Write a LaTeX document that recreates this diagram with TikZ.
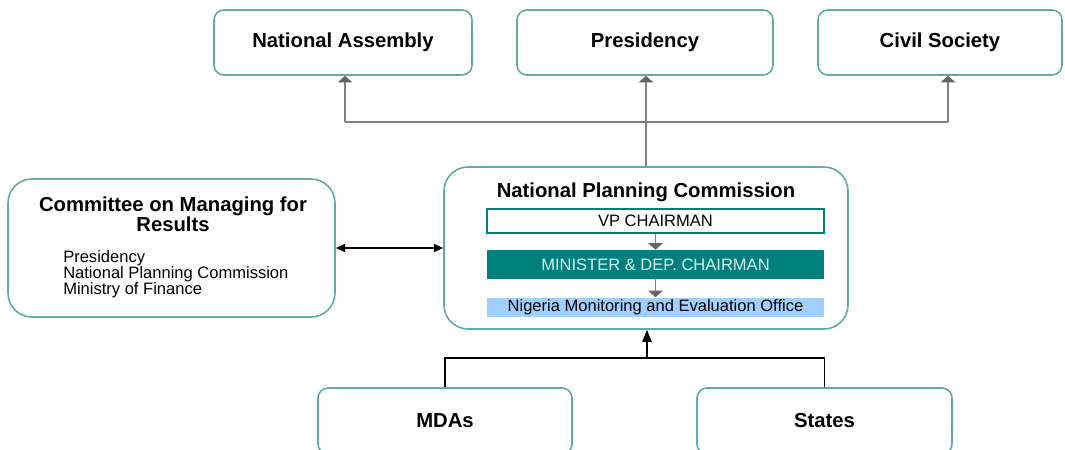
\documentclass[tikz,border=0pt]{standalone}
\usepackage{fontspec}
\setmainfont{Liberation Sans}
\usepackage{tikz}
\usetikzlibrary{positioning,arrows.meta}
\definecolor{boxline}{RGB}{95,170,170}
\definecolor{linegray}{RGB}{128,128,128}
\definecolor{arrowgray}{RGB}{100,100,100}
\definecolor{npcteal}{RGB}{0,128,124}
\definecolor{npcpale}{RGB}{215,240,240}
\definecolor{npcblue}{RGB}{160,208,255}

\begin{document}
\begin{tikzpicture}[x=0.75pt,y=-0.75pt,
	outerbox/.style={draw=boxline, line width=1.2pt, rounded corners=7.5pt, fill=white, inner sep=0pt},
	bigbox/.style={outerbox, rounded corners=18pt},
	boldlbl/.style={font=\bfseries\fontsize{15.2}{12.8}\selectfont},
	plainlbl/.style={font=\fontsize{12.4}{12}\selectfont},
	innerbox/.style={minimum width=252.75pt, inner sep=0pt, plainlbl},
	link/.style={draw=linegray, line width=1.1pt},
	linkarrow/.style={link, -{Triangle[length=5pt,width=11pt,color=arrowgray]}},
	blackline/.style={draw=black, line width=1.1pt},
	blackarrow/.style={blackline, -{Triangle[length=9pt,width=7pt]}}]
\clip (0,0) rectangle (1065,450);
\fill[white] (0,0) rectangle (1065,450);

\node[outerbox, boldlbl, minimum width=193.5pt, minimum height=48.75pt] (na) at (343,42.5) {National Assembly};
\node[outerbox, boldlbl, minimum width=192pt, minimum height=48.75pt] (pres) at (645,42.5) {Presidency};
\node[outerbox, boldlbl, minimum width=183pt, minimum height=48.75pt] (civ) at (940,42.5) {Civil Society};

\node[bigbox, minimum width=245.25pt, minimum height=103.5pt] (cmr) at (171.5,248) {};
\node[boldlbl, align=center] (cmrtitle) at (173,214) {Committee on Managing for\\Results};
\node[plainlbl, align=left, anchor=west, inner sep=0pt] (cmrlist) at (63,274) {Presidency\\National Planning Commission\\Ministry of Finance};

\node[bigbox, minimum width=303pt, minimum height=121.5pt] (npc) at (646,248) {};
\node[boldlbl] (npctitle) at (646,192) {National Planning Commission};
\node[innerbox, draw=npcteal, line width=1pt, minimum height=18pt] (vp) at (655.5,221) {VP CHAIRMAN};
\node[innerbox, fill=npcteal, text=npcpale, minimum height=21.75pt] (mdc) at (655.5,264.5) {MINISTER \& DEP. CHAIRMAN};
\node[innerbox, fill=npcblue, minimum height=14.25pt] (nmeo) at (655.5,307) {Nigeria Monitoring and Evaluation Office};

\node[outerbox, boldlbl, minimum width=190.5pt, minimum height=49.5pt] (mdas) at (445,421) {MDAs};
\node[outerbox, boldlbl, minimum width=191.25pt, minimum height=49.5pt] (states) at (824.5,421) {States};

\coordinate (jl) at (345,122);
\coordinate (jr) at (948,122);
\coordinate (jb) at (647,358);

\draw[link] (jl) -- (jr);
\draw[linkarrow] (jl) -- (jl |- na.south);
\draw[linkarrow] (jr) -- (jr |- civ.south);
\draw[linkarrow] (npc.north) -- (npc.north |- pres.south);

\draw[linkarrow] (vp.south) -- (mdc.north);
\draw[linkarrow] (mdc.south) -- (nmeo.north);

\draw[blackline, {Triangle[length=7pt,width=6pt]}-{Triangle[length=7pt,width=6pt]}] (cmr.east) -- (npc.west);

\draw[blackline] (mdas.north) |- (jb) -| (states.north);
\draw[blackarrow] (jb) -- (jb |- npc.south);
\end{tikzpicture}
\end{document}
